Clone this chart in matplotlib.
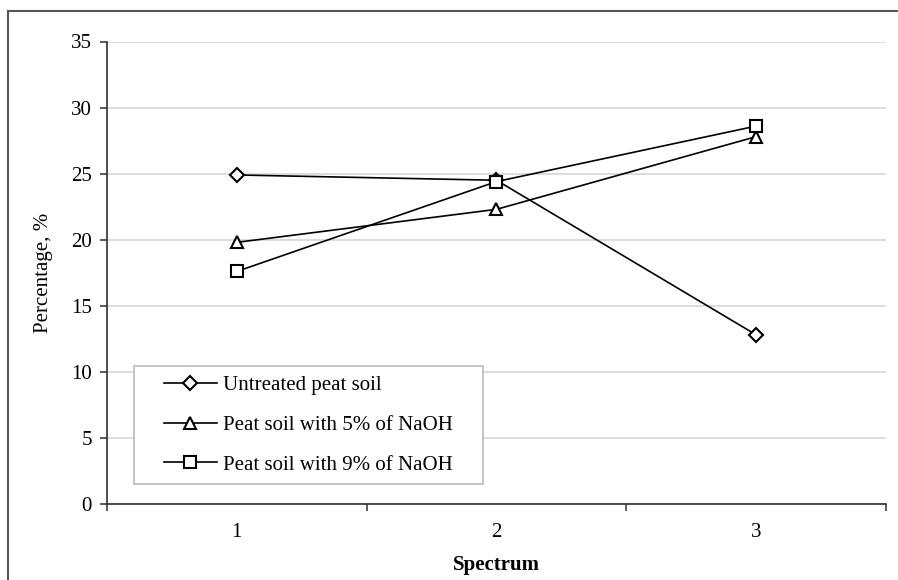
import matplotlib
matplotlib.use('Agg')
import matplotlib.pyplot as plt
from matplotlib.patches import Rectangle

# values
spectrum = [1, 2, 3]
untreated = [24.9, 24.5, 12.8]
naoh_5 = [19.8, 22.3, 27.8]
naoh_9 = [17.6, 24.4, 28.6]
labels = ['Untreated peat soil', 'Peat soil with 5% of NaOH', 'Peat soil with 9% of NaOH']

plt.rcParams['font.family'] = ['Liberation Serif', 'DejaVu Serif']

fig = plt.figure(figsize=(8.98, 5.80), dpi=100)
ax = fig.add_axes([107 / 898, 1 - 504 / 580, 779 / 898, 462.5 / 580])

style = dict(color='black', lw=1.2, mfc='white', mec='black', mew=1.5)
ax.plot(spectrum, untreated, marker='D', ms=7.5, label=labels[0], **style)
ax.plot(spectrum, naoh_5, marker='^', ms=9, label=labels[1], **style)
ax.plot(spectrum, naoh_9, marker='s', ms=8.5, label=labels[2], **style)

ax.set_xlim(0.5, 3.5)
ax.set_ylim(0, 35)
ax.set_yticks(range(0, 36, 5))
ax.set_xticks(spectrum)
ax.set_xticks([0.5, 1.5, 2.5, 3.5], minor=True)
ax.tick_params(axis='x', which='major', length=0, pad=14, labelsize=15)
ax.tick_params(axis='x', which='minor', length=5, width=1.2, direction='out', color='#404040')
ax.tick_params(axis='y', length=5, width=1.2, direction='out', pad=6, labelsize=15, color='#404040')

ax.grid(axis='y', color='#d9d9d9', lw=1.3)
ax.set_axisbelow(True)
for s in ['top', 'right']:
    ax.spines[s].set_visible(False)
for s in ['left', 'bottom']:
    ax.spines[s].set_color('#303030')
    ax.spines[s].set_linewidth(1.2)

ax.set_xlabel('Spectrum', fontsize=15, fontweight='bold', labelpad=9)
ax.set_ylabel('Percentage, %', fontsize=15, labelpad=13)

# legend box drawn by hand, entries centred inside it
box = Rectangle((0.0347, 0.043), 0.448, 0.2554, transform=ax.transAxes,
                fc='white', ec='#bfbfbf', lw=1.3, zorder=4)
ax.add_patch(box)
leg = ax.legend(loc='center', bbox_to_anchor=(0.2587, 0.1707), fontsize=15,
                frameon=False, handlelength=2.55, handletextpad=0.3,
                labelspacing=0.97, borderpad=0, borderaxespad=0)
leg.set_zorder(5)

# outer chart border (runs off the right and bottom edges)
fig.add_artist(Rectangle((8 / 898, -0.1), 1.1, 1 - 11 / 580 + 0.1,
                         transform=fig.transFigure, fill=False,
                         ec='#555555', lw=1.5))

fig.savefig('out.png', dpi=100)
